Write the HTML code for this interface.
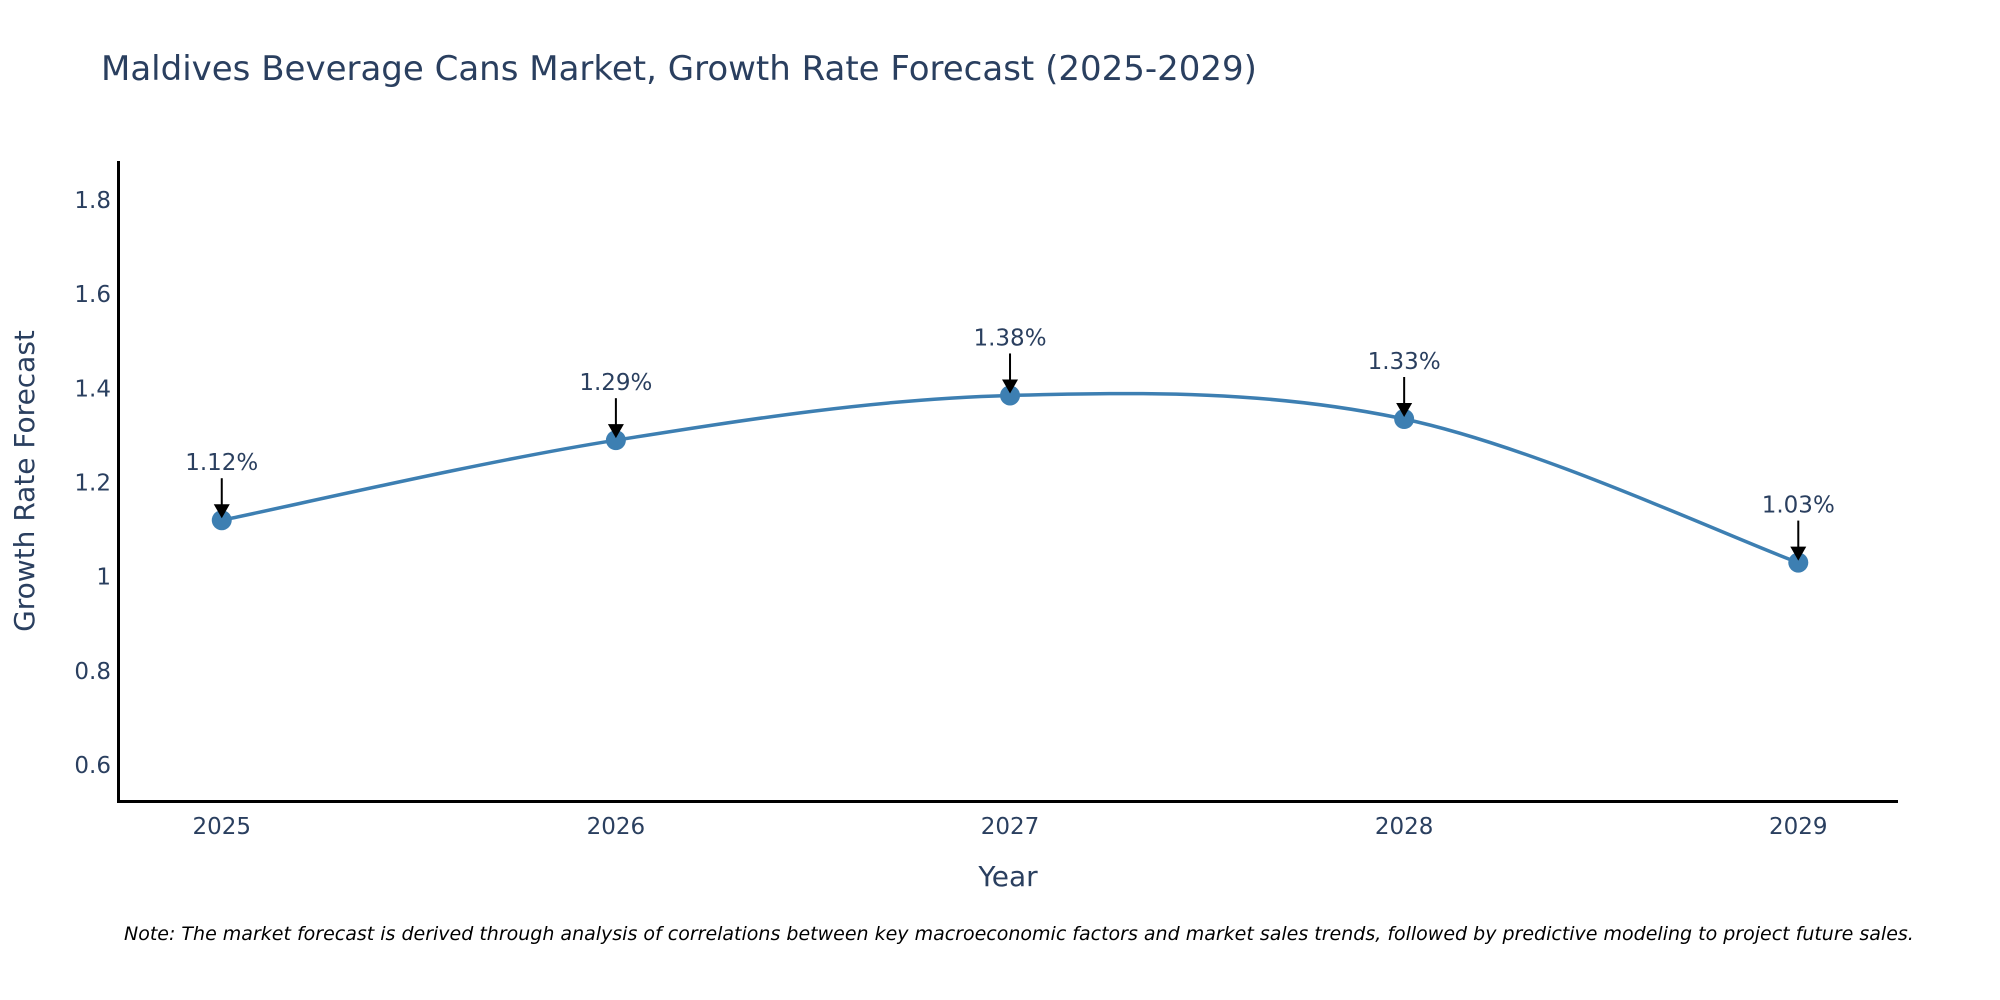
<!DOCTYPE html>
<html><head><meta charset="utf-8"><style>
body{margin:0;background:#fff;}
svg{display:block;font-family:"DejaVu Sans","Liberation Sans",sans-serif;}
</style></head><body>
<svg id="chart" width="2000" height="1000" viewBox="0 0 2000 1000">
<text x="101" y="80" font-size="34" fill="#2a3f5f">Maldives Beverage Cans Market, Growth Rate Forecast (2025-2029)</text>
<g id="yticks"></g>
<g id="xticks"></g>
<line x1="118.5" y1="161" x2="118.5" y2="802" stroke="#000" stroke-width="3"/>
<line x1="117" y1="801.5" x2="1898" y2="801.5" stroke="#000" stroke-width="3"/>
<g id="series"></g>
<g id="annots"></g>
<text x="1008" y="886" font-size="28" fill="#2a3f5f" text-anchor="middle">Year</text>
<text transform="translate(34,481) rotate(-90)" font-size="28" fill="#2a3f5f" text-anchor="middle">Growth Rate Forecast</text>
<text x="124" y="940" font-size="19" font-style="italic" fill="#000">Note: The market forecast is derived through analysis of correlations between key macroeconomic factors and market sales trends, followed by predictive modeling to project future sales.</text>
</svg>
<script>
const years = [2025, 2026, 2027, 2028, 2029];
const growth = [1.12, 1.29, 1.385, 1.335, 1.03];
const labels = ["1.12%", "1.29%", "1.38%", "1.33%", "1.03%"];
const yTicks = [0.6, 0.8, 1, 1.2, 1.4, 1.6, 1.8];
const yTickLabels = ["0.6", "0.8", "1", "1.2", "1.4", "1.6", "1.8"];

const NS = "http://www.w3.org/2000/svg";
const X0 = 118.5, X1 = 1898, Y0 = 801, Y1 = 161;
const xMin = 2024.738, xMax = 2029.253, yMin = 0.5236, yMax = 1.883;
const xs = v => X0 + (v - xMin) / (xMax - xMin) * (X1 - X0);
const ys = v => Y0 - (v - yMin) / (yMax - yMin) * (Y0 - Y1);
function mk(tag, attrs, parent) {
  const e = document.createElementNS(NS, tag);
  for (const k in attrs) e.setAttribute(k, attrs[k]);
  parent.appendChild(e);
  return e;
}
const yg = document.getElementById('yticks');
yTicks.forEach((t, i) => {
  const el = mk('text', {x: 111, y: ys(t) + 8, 'font-size': 23, fill: '#2a3f5f', 'text-anchor': 'end'}, yg);
  
  
  el.textContent = yTickLabels[i];
});
const xg = document.getElementById('xticks');
years.forEach(y => {
  const el = mk('text', {x: xs(y), y: 834, 'font-size': 23, fill: '#2a3f5f', 'text-anchor': 'middle'}, xg);
  
  
  el.textContent = String(y);
});
const pts = years.map((y, i) => [xs(y), ys(growth[i])]);
let d = 'M' + pts[0][0] + ',' + pts[0][1];
const s = 0.17;
for (let i = 0; i < pts.length - 1; i++) {
  const p0 = pts[Math.max(0, i - 1)], p1 = pts[i], p2 = pts[i + 1], p3 = pts[Math.min(pts.length - 1, i + 2)];
  const c1 = [p1[0] + (p2[0] - p0[0]) * s, p1[1] + (p2[1] - p0[1]) * s];
  const c2 = [p2[0] - (p3[0] - p1[0]) * s, p2[1] - (p3[1] - p1[1]) * s];
  d += ' C' + c1 + ' ' + c2 + ' ' + p2;
}
const sg = document.getElementById('series');
const line = mk('path', {d: d, fill: 'none', stroke: '#3d7fb2', 'stroke-width': 3.5}, sg);


const ag = document.getElementById('annots');
pts.forEach((p, i) => {
  const c = mk('circle', {cx: p[0], cy: p[1], r: 10, fill: '#3d7fb2'}, sg);
  
  
  const a = mk('line', {x1: p[0], y1: p[1] - 42, x2: p[0], y2: p[1] - 14, stroke: '#000', 'stroke-width': 2}, ag);
  
  
  const h = mk('polygon', {points: (p[0]-8)+','+(p[1]-16)+' '+(p[0]+8)+','+(p[1]-16)+' '+p[0]+','+(p[1]-2), fill: '#000'}, ag);
  
  
  const t = mk('text', {x: p[0], y: p[1] - 50, 'font-size': 23, fill: '#2a3f5f', 'text-anchor': 'middle'}, ag);
  
  
  t.textContent = labels[i];
});
</script>
</body></html>
